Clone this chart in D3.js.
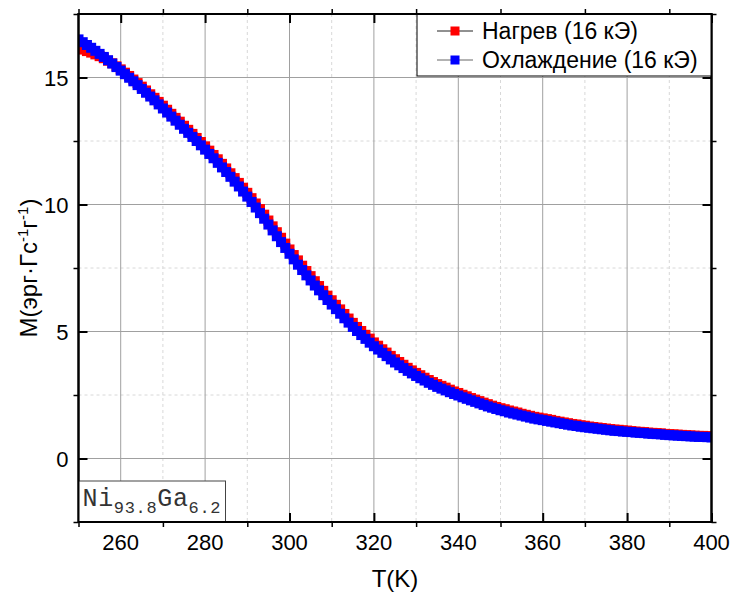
<!DOCTYPE html>
<html>
<head>
<meta charset="utf-8">
<script src="https://cdn.jsdelivr.net/npm/d3@7"></script>
<style>
  body { margin: 0; background: #fff; }
  svg text { font-family: "Liberation Sans", Arial, sans-serif; }
  .grid-major line { stroke: #a0a0a0; stroke-width: 1; }
  .grid-minor line { stroke: #d8d8d8; stroke-width: 1; stroke-dasharray: 3,3; }
  .axis path { display: none; }
  .axis line { stroke: #000; }
</style>
</head>
<body>
<div class="chart"></div>
<script>
// temperature, K
const tempK = [
  250,251,252,253,254,255,256,257,258,259,260,261,262,263,264,265,266,267,268,269,
  270,271,272,273,274,275,276,277,278,279,280,281,282,283,284,285,286,287,288,289,
  290,291,292,293,294,295,296,297,298,299,300,301,302,303,304,305,306,307,308,309,
  310,311,312,313,314,315,316,317,318,319,320,321,322,323,324,325,326,327,328,329,
  330,331,332,333,334,335,336,337,338,339,340,341,342,343,344,345,346,347,348,349,
  350,351,352,353,354,355,356,357,358,359,360,361,362,363,364,365,366,367,368,369,
  370,371,372,373,374,375,376,377,378,379,380,381,382,383,384,385,386,387,388,389,
  390,391,392,393,394,395,396,397,398,399,400
]

// Нагрев (16 кЭ)
const heatM = [
  16.16,16.10,16.04,15.98,15.91,15.84,15.76,15.66,15.56,15.44,15.32,15.19,15.06,14.92,14.78,14.64,14.49,14.34,14.20,14.04,
  13.89,13.73,13.57,13.41,13.26,13.10,12.94,12.78,12.62,12.46,12.29,12.12,11.95,11.78,11.60,11.42,11.23,11.04,10.85,10.66,
  10.46,10.25,10.04,9.82,9.60,9.37,9.14,8.91,8.69,8.46,8.23,8.01,7.80,7.59,7.38,7.18,6.98,6.79,6.60,6.41,
  6.23,6.05,5.87,5.69,5.51,5.34,5.18,5.02,4.87,4.72,4.57,4.44,4.30,4.17,4.04,3.91,3.80,3.69,3.57,3.47,
  3.37,3.28,3.18,3.09,3.01,2.93,2.86,2.79,2.71,2.64,2.58,2.51,2.45,2.38,2.32,2.26,2.20,2.14,2.08,2.03,
  1.98,1.94,1.89,1.85,1.81,1.76,1.72,1.68,1.64,1.61,1.58,1.55,1.52,1.48,1.45,1.42,1.39,1.36,1.34,1.31,
  1.29,1.26,1.24,1.22,1.20,1.18,1.16,1.14,1.13,1.11,1.10,1.08,1.06,1.05,1.04,1.02,1.01,1.00,0.99,0.97,
  0.96,0.95,0.94,0.93,0.92,0.91,0.90,0.89,0.89,0.88,0.87
]

// Охлаждение (16 кЭ)
const coolM = [
  16.50,16.39,16.28,16.17,16.05,15.93,15.81,15.68,15.55,15.41,15.27,15.13,14.99,14.85,14.70,14.55,14.40,14.25,14.10,13.94,
  13.78,13.62,13.46,13.30,13.14,12.98,12.82,12.66,12.50,12.33,12.16,11.99,11.82,11.64,11.46,11.28,11.09,10.90,10.71,10.51,
  10.31,10.10,9.88,9.66,9.44,9.21,8.98,8.75,8.52,8.29,8.06,7.84,7.63,7.42,7.21,7.01,6.81,6.62,6.43,6.24,
  6.06,5.88,5.70,5.52,5.35,5.18,5.02,4.86,4.71,4.56,4.42,4.29,4.16,4.03,3.90,3.78,3.67,3.56,3.45,3.35,
  3.25,3.16,3.07,2.98,2.90,2.82,2.75,2.68,2.61,2.54,2.48,2.41,2.35,2.29,2.23,2.17,2.11,2.05,2.00,1.95,
  1.90,1.86,1.81,1.77,1.73,1.69,1.65,1.61,1.57,1.54,1.51,1.48,1.45,1.42,1.39,1.36,1.33,1.30,1.28,1.25,
  1.23,1.21,1.19,1.17,1.15,1.13,1.11,1.09,1.08,1.06,1.05,1.04,1.02,1.01,1.00,0.98,0.97,0.96,0.95,0.93,
  0.92,0.91,0.90,0.89,0.88,0.87,0.86,0.85,0.85,0.84,0.83
]

const xMajor = [260, 280, 300, 320, 340, 360, 380, 400]
const xMinor = [250, 270, 290, 310, 330, 350, 370, 390]
const yMajor = [0, 5, 10, 15]
const yMinor = [-2.5, 2.5, 7.5, 12.5, 17.5]

const series = [
  { name: "Нагрев (16 кЭ)", values: heatM, color: "#ff0000", line: "#222" },
  { name: "Охлаждение (16 кЭ)", values: coolM, color: "#0000ff", line: "#666" }
]

let width = 731, height = 596
let margin = { top: 14, right: 19.5, bottom: 74, left: 78.5 }
let w = width - margin.left - margin.right
let h = height - margin.top - margin.bottom

let xScale = d3.scaleLinear().domain([250, 400]).range([0, w])
let yScale = d3.scaleLinear().domain([-2.5, 17.5]).range([h, 0])

let svg = d3.select('.chart').append('svg')
  .attr('width', width)
  .attr('height', height)

let g = svg.append('g')
  .attr('transform', `translate(${margin.left},${margin.top})`)

g.append('clipPath').attr('id', 'plot-clip')
  .append('rect').attr('width', w).attr('height', h)

// grid
let gMin = g.append('g').attr('class', 'grid-minor')
gMin.selectAll('line.vx').data(xMinor.slice(1)).join('line')
  .attr('class', 'vx')
  .attr('x1', d => xScale(d)).attr('x2', d => xScale(d))
  .attr('y1', 0).attr('y2', h)
gMin.selectAll('line.hy').data(yMinor.slice(1, -1)).join('line')
  .attr('class', 'hy')
  .attr('x1', 0).attr('x2', w)
  .attr('y1', d => yScale(d)).attr('y2', d => yScale(d))

let gMaj = g.append('g').attr('class', 'grid-major')
gMaj.selectAll('line.vx').data(xMajor.slice(0, -1)).join('line')
  .attr('class', 'vx')
  .attr('x1', d => xScale(d)).attr('x2', d => xScale(d))
  .attr('y1', 0).attr('y2', h)
gMaj.selectAll('line.hy').data(yMajor).join('line')
  .attr('class', 'hy')
  .attr('x1', 0).attr('x2', w)
  .attr('y1', d => yScale(d)).attr('y2', d => yScale(d))

// data
let plot = g.append('g').attr('clip-path', 'url(#plot-clip)')
let ms = 10
let line = d3.line().x((d, i) => xScale(tempK[i])).y(d => yScale(d))

series.forEach(s => {
  plot.append('path')
    .attr('d', line(s.values))
    .attr('fill', 'none')
    .attr('stroke', s.line)
    .attr('stroke-width', 0.8)
  plot.append('g').selectAll('rect').data(s.values).join('rect')
    .attr('x', (d, i) => xScale(tempK[i]) - ms / 2)
    .attr('y', d => yScale(d) - ms / 2)
    .attr('width', ms)
    .attr('height', ms)
    .attr('fill', s.color)
})

// axes: majors point inward, minors outward
function tickAxes(axisFn, scale, majors, minors, transform) {
  g.append('g').attr('class', 'axis').attr('transform', transform)
    .call(axisFn(scale).tickValues(majors).tickSize(-9).tickFormat(''))
    .selectAll('line').attr('stroke-width', 2)
  g.append('g').attr('class', 'axis').attr('transform', transform)
    .call(axisFn(scale).tickValues(minors).tickSize(5).tickFormat(''))
    .selectAll('line').attr('stroke-width', 1.5)
}
tickAxes(d3.axisBottom, xScale, xMajor, xMinor, `translate(0,${h})`)
tickAxes(d3.axisTop, xScale, xMajor, xMinor, `translate(0,0)`)
tickAxes(d3.axisLeft, yScale, yMajor, yMinor, `translate(0,0)`)
tickAxes(d3.axisRight, yScale, yMajor, yMinor, `translate(${w},0)`)

// tick labels
g.append('g').selectAll('text').data(xMajor).join('text')
  .attr('x', d => xScale(d))
  .attr('y', h + 28)
  .attr('text-anchor', 'middle')
  .attr('font-size', 22)
  .text(d => d)

g.append('g').selectAll('text').data(yMajor).join('text')
  .attr('x', -10)
  .attr('y', d => yScale(d) + 8)
  .attr('text-anchor', 'end')
  .attr('font-size', 22)
  .text(d => d)

// frame
g.append('rect')
  .attr('width', w).attr('height', h)
  .attr('fill', 'none').attr('stroke', '#000').attr('stroke-width', 2)

// axis titles
svg.append('text')
  .attr('x', margin.left + w / 2)
  .attr('y', 587)
  .attr('text-anchor', 'middle')
  .attr('font-size', 24)
  .text('T(K)')

let yt = svg.append('text')
  .attr('transform', `translate(37,${margin.top + h / 2}) rotate(-90)`)
  .attr('text-anchor', 'middle')
  .attr('font-size', 24)
yt.append('tspan').text('M(эрг·Гс')
yt.append('tspan').attr('font-size', 15).attr('dy', -9).text('-1')
yt.append('tspan').attr('dy', 9).text('г')
yt.append('tspan').attr('font-size', 15).attr('dy', -9).text('-1')
yt.append('tspan').attr('dy', 9).text(')')

// legend
let lg = g.append('g').attr('transform', `translate(${xScale(250) + 338.5},0)`)
lg.append('rect')
  .attr('width', w - 338.5).attr('height', 62)
  .attr('fill', '#fff').attr('stroke', '#000').attr('stroke-width', 1)
series.forEach((s, i) => {
  let cy = 17 + i * 29
  lg.append('line')
    .attr('x1', 20).attr('x2', 56).attr('y1', cy).attr('y2', cy)
    .attr('stroke', s.line).attr('stroke-width', 1)
  lg.append('rect')
    .attr('x', 33.5).attr('y', cy - 4.5).attr('width', 9).attr('height', 9)
    .attr('fill', s.color)
  lg.append('text')
    .attr('x', 65).attr('y', cy + 8)
    .attr('font-size', 23)
    .text(s.name)
})

// sample label
let nb = g.append('g').attr('transform', `translate(0,${h - 41})`)
nb.append('rect')
  .attr('width', 147).attr('height', 41)
  .attr('fill', '#fff').attr('stroke', '#444').attr('stroke-width', 1)
let nt = nb.append('text')
  .attr('x', 4).attr('y', 25)
  .attr('fill', '#333')
  .attr('font-size', 25)
  .attr('textLength', 138)
  .attr('lengthAdjust', 'spacing')
  .style('font-family', '"Liberation Mono", "Courier New", monospace')
nt.append('tspan').text('Ni')
nt.append('tspan').attr('font-size', 17).attr('dy', 7).text('93.8')
nt.append('tspan').attr('dy', -7).text('Ga')
nt.append('tspan').attr('font-size', 17).attr('dy', 7).text('6.2')

// redraw frame edges over the boxes
g.append('rect')
  .attr('width', w).attr('height', h)
  .attr('fill', 'none').attr('stroke', '#000').attr('stroke-width', 2)
</script>
</body>
</html>
